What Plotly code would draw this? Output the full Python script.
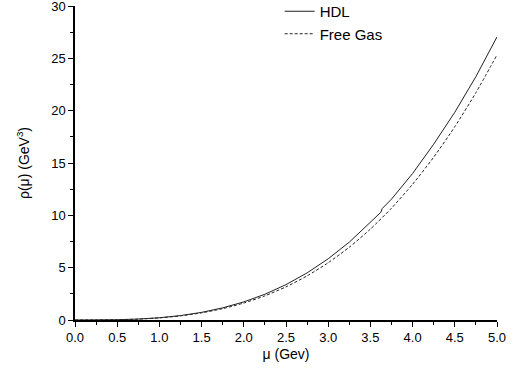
import plotly.graph_objects as go

mu_free = [0, 0.25, 0.5, 0.75, 1.0, 1.25, 1.5, 1.75, 2.0, 2.25, 2.5, 2.75, 3.0,
           3.25, 3.5, 3.75, 4.0, 4.25, 4.5, 4.75, 5.0]
rho_free = [0, 0.003, 0.025, 0.085, 0.203, 0.396, 0.684, 1.086, 1.621, 2.308,
            3.166, 4.214, 5.471, 6.955, 8.688, 10.686, 12.969, 15.556, 18.466,
            21.718, 25.33]

mu_hdl = [0, 0.25, 0.5, 0.75, 1.0, 1.25, 1.5, 1.75, 2.0, 2.25, 2.5, 2.75, 3.0,
          3.25, 3.5, 3.625, 3.64, 3.75, 4.0, 4.25, 4.5, 4.75, 5.0]
rho_hdl = [0, 0.003, 0.027, 0.09, 0.215, 0.42, 0.73, 1.16, 1.73, 2.46, 3.38,
           4.50, 5.85, 7.44, 9.30, 10.30, 10.65, 11.55, 14.0, 16.8, 19.85,
           23.25, 27.05]

x_ticks = [0.0, 0.5, 1.0, 1.5, 2.0, 2.5, 3.0, 3.5, 4.0, 4.5, 5.0]
y_ticks = [0, 5, 10, 15, 20, 25, 30]

fig = go.Figure()
fig.add_trace(go.Scatter(x=mu_hdl, y=rho_hdl, mode="lines", name="HDL",
                         line=dict(color="#222222", width=1, shape="linear")))
fig.add_trace(go.Scatter(x=mu_free, y=rho_free, mode="lines", name="Free Gas",
                         line=dict(color="#222222", width=1, dash="3px,2px", shape="spline", smoothing=0.6)))

font = "Liberation Sans, Arial, sans-serif"
fig.update_layout(
    width=516, height=374,
    margin=dict(l=75, r=19, t=6, b=54, autoexpand=False),
    paper_bgcolor="white", plot_bgcolor="white",
    showlegend=True,
    legend=dict(x=0.485, y=1.035, xanchor="left", yanchor="top",
                font=dict(family=font, size=15, color="black"),
                bgcolor="rgba(0,0,0,0)", tracegroupgap=0, itemwidth=30),
    font=dict(family=font, color="black"),
    xaxis=dict(range=[0, 5], tickvals=x_ticks,
               ticktext=[f"{v:.1f}" for v in x_ticks],
               ticks="outside", ticklen=5, tickwidth=1, tickcolor="black",
               showline=True, linecolor="black", linewidth=1.5,
               showgrid=False, zeroline=False, automargin=False,
               tickfont=dict(size=13),
               minor=dict(ticks="outside", ticklen=3, dtick=0.25, tickcolor="black", showgrid=False),
               title=dict(text="μ (Gev)", font=dict(size=14), standoff=5)),
    yaxis=dict(range=[0, 30], tickvals=y_ticks,
               ticks="outside", ticklen=5, tickwidth=1, tickcolor="black",
               showline=True, linecolor="black", linewidth=1.5,
               showgrid=False, zeroline=False, automargin=False,
               tickfont=dict(size=13), ticklabeloverflow="allow",
               minor=dict(ticks="outside", ticklen=3, dtick=2.5, tickcolor="black", showgrid=False),
               title=dict(text="ρ(μ) (GeV<sup>3</sup>)", font=dict(size=14), standoff=18)),
)

fig.write_html("out.html", config={"displayModeBar": False},
               post_script="document.body.style.margin='0';document.body.style.overflow='hidden';")
